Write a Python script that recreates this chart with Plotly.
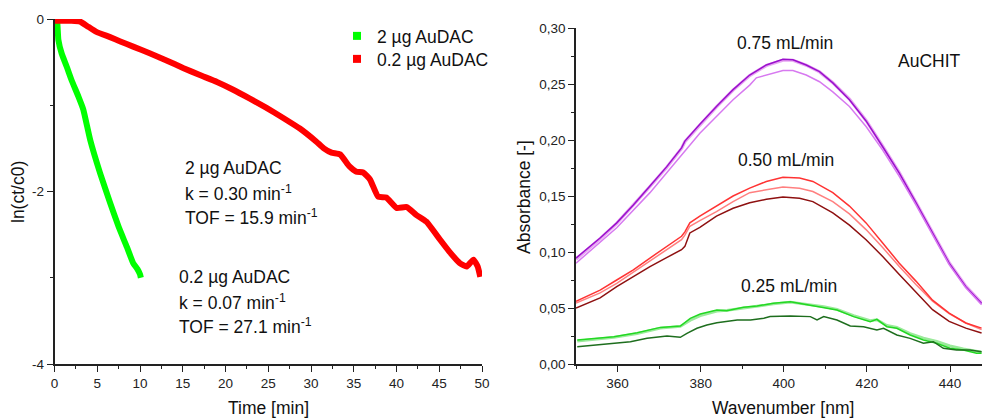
import plotly.graph_objects as go

W, H = 982, 418
FONT = "Liberation Sans, Arial, sans-serif"

# ---------------- Left panel data: ln(ct/c0) vs time ----------------
t_2ug = [0.2, 0.33, 0.45, 0.84, 1.42, 2.0, 2.8, 3.37, 4.17, 5.34, 6.5, 7.5, 8.45, 9.2, 9.7, 10.0, 10.1]
y_2ug = [0.0, -0.05, -0.24, -0.40, -0.55, -0.71, -0.90, -1.05, -1.40, -1.79, -2.13, -2.41, -2.64, -2.83, -2.90, -2.96, -3.0]

t_02ug = [0, 1, 2, 3.0, 3.8, 4.9, 6.5, 7.7, 9.2, 11.2, 13.1, 15.1, 17.0, 19.0, 20.9, 22.8, 24.8,
          26.8, 28.7, 30.6, 31.5, 32.4, 33.4, 34.5, 35.3, 36.1, 36.9, 37.85, 38.8, 40.0, 41.2,
          42.3, 43.5, 45.1, 46.2, 47.4, 48.2, 49.0, 49.5, 49.8]
y_02ug = [-0.02, -0.02, -0.02, -0.03, -0.08, -0.15, -0.21, -0.26, -0.32, -0.40, -0.48, -0.57, -0.65,
          -0.73, -0.82, -0.92, -1.03, -1.15, -1.27, -1.42, -1.50, -1.55, -1.57, -1.71, -1.77, -1.78,
          -1.86, -2.06, -2.07, -2.19, -2.18, -2.27, -2.35, -2.56, -2.70, -2.83, -2.87, -2.79, -2.87, -2.99]

legend_names = ["2 µg AuDAC", "0.2 µg AuDAC"]

# ---------------- Right panel data: absorbance spectra ----------------
wl_a = [350.0, 355.8, 359.8, 363.8, 367.8, 371.8, 375.4, 376.2, 379.8, 383.8, 387.8, 391.8,
        395.8, 399.8, 402.2, 405.4, 408.6, 411.8, 415.8, 419.8, 423.8, 427.8, 431.8, 435.8,
        439.8, 443.8, 447.6]
abs_075_dark = [0.0946, 0.1125, 0.126, 0.142, 0.159, 0.176, 0.193, 0.199, 0.214, 0.230, 0.245, 0.258,
                0.267, 0.272, 0.2717, 0.267, 0.261, 0.251, 0.236, 0.217, 0.194, 0.1705, 0.144, 0.117,
                0.090, 0.069, 0.054]
abs_075_pale = [0.0935, 0.1118, 0.1255, 0.1415, 0.1585, 0.1755, 0.1925, 0.1985, 0.2135, 0.2295, 0.2445, 0.2575,
                0.2665, 0.2712, 0.2712, 0.2668, 0.2608, 0.2512, 0.2365, 0.2175, 0.1945, 0.171, 0.1445, 0.1175,
                0.0905, 0.0695, 0.0545]
wl_b = [350.0, 359.8, 367.8, 375.4, 379.8, 387.8, 391.8, 393.4, 395.8, 399.8, 402.2, 405.4, 408.6,
        411.8, 415.8, 419.8, 423.8, 427.8, 431.8, 435.8, 439.8, 443.8, 447.6]
abs_075_mid = [0.090, 0.1217, 0.153, 0.187, 0.206, 0.236, 0.249, 0.2555, 0.258, 0.262, 0.262, 0.258, 0.252,
               0.243, 0.230, 0.212, 0.191, 0.1675, 0.142, 0.1155, 0.0887, 0.068, 0.053]

wl_c = [350.0, 355.8, 359.8, 363.8, 367.8, 371.8, 375.4, 376.2, 377.4, 379.8, 383.8, 387.8, 391.8,
        395.8, 399.8, 403.8, 407.0, 411.8, 415.8, 419.8, 423.8, 427.8, 431.8, 435.8, 439.8, 443.8, 447.6]
abs_050_red = [0.056, 0.066, 0.075, 0.084, 0.0946, 0.105, 0.114, 0.118, 0.126, 0.132, 0.141, 0.150, 0.157,
               0.163, 0.1667, 0.166, 0.163, 0.153, 0.141, 0.126, 0.108, 0.090, 0.074, 0.057, 0.0455, 0.0366, 0.032]
abs_050_salmon = [0.0545, 0.0635, 0.072, 0.082, 0.0917, 0.102, 0.111, 0.115, 0.123, 0.128, 0.136, 0.145, 0.153,
                  0.1555, 0.158, 0.157, 0.154, 0.145, 0.134, 0.120, 0.104, 0.087, 0.071, 0.056, 0.045, 0.0366, 0.0307]
abs_050_dark = [0.050, 0.059, 0.069, 0.078, 0.087, 0.095, 0.102, 0.105, 0.117, 0.122, 0.132, 0.139, 0.144,
                0.147, 0.149, 0.148, 0.145, 0.135, 0.124, 0.111, 0.096, 0.080, 0.064, 0.0485, 0.038, 0.032, 0.0277]

wl_d = [350.3, 355.0, 359.1, 364.7, 370.3, 375.1, 377.5, 379.9, 383.9, 386.3, 390.3, 393.6, 397.5,
        401.6, 406.4, 409.6, 412.8, 416.8, 420.8, 422.4, 424.8, 427.2, 430.4, 433.6, 436.8, 440.0,
        443.2, 446.4, 447.6]
abs_025_green = [0.0214, 0.023, 0.0244, 0.028, 0.0327, 0.0339, 0.0408, 0.0446, 0.0482, 0.0476, 0.0506, 0.0518,
                 0.0542, 0.0556, 0.0527, 0.0506, 0.0482, 0.0423, 0.0378, 0.0399, 0.0333, 0.0319, 0.0259,
                 0.0214, 0.0185, 0.014, 0.0125, 0.0096, 0.0096]
abs_025_light = [0.0205, 0.0222, 0.0238, 0.0272, 0.032, 0.0335, 0.039, 0.0432, 0.0472, 0.0478, 0.0498, 0.052,
                 0.0536, 0.0552, 0.0532, 0.0512, 0.0488, 0.0432, 0.0388, 0.0395, 0.0345, 0.0328, 0.0272,
                 0.0232, 0.0202, 0.0162, 0.0135, 0.0112, 0.0105]
wl_e = [350.3, 356.7, 363.1, 367.1, 371.9, 375.1, 376.7, 379.1, 381.5, 383.9, 386.3, 388.8, 392.0,
        395.2, 396.7, 401.6, 406.4, 408.0, 409.6, 412.8, 416.0, 419.2, 422.4, 424.0, 427.2, 430.4,
        433.6, 436.0, 438.4, 441.6, 444.8, 447.6]
abs_025_dark = [0.0155, 0.0179, 0.0199, 0.0229, 0.025, 0.0238, 0.0274, 0.0319, 0.0348, 0.0369, 0.0378, 0.0393,
                0.0393, 0.0408, 0.0423, 0.0429, 0.0423, 0.0393, 0.0423, 0.0393, 0.0339, 0.0333, 0.0304,
                0.0319, 0.0259, 0.0229, 0.0185, 0.0199, 0.014, 0.0125, 0.0125, 0.011]


def px(x, y):
    return x / W, 1 - y / H


fig = go.Figure()

# Left panel traces
fig.add_trace(go.Scatter(x=t_2ug, y=y_2ug, mode="lines",
                         line=dict(color="#00FF00", width=6, shape="spline", smoothing=0.4),
                         showlegend=False, xaxis="x", yaxis="y"))
fig.add_trace(go.Scatter(x=t_02ug, y=y_02ug, mode="lines",
                         line=dict(color="#FF0000", width=6, shape="spline", smoothing=0.4),
                         showlegend=False, xaxis="x", yaxis="y"))
# legend entries (squares), each in its own legend box
fig.add_trace(go.Scatter(x=[None], y=[None], mode="markers", name=legend_names[0], legend="legend",
                         marker=dict(symbol="square", size=8, color="#00FF00"), xaxis="x", yaxis="y"))
fig.add_trace(go.Scatter(x=[None], y=[None], mode="markers", name=legend_names[1], legend="legend2",
                         marker=dict(symbol="square", size=8, color="#FF0000"), xaxis="x", yaxis="y"))

# Right panel traces
def spec(x, y, color, width=1.5):
    fig.add_trace(go.Scatter(x=x, y=y, mode="lines", line=dict(color=color, width=width),
                             showlegend=False, xaxis="x2", yaxis="y2"))

spec(wl_a, abs_075_pale, "#E7A6F2", 3.2)
spec(wl_a, abs_075_dark, "#9A10CC", 1.5)
spec(wl_b, abs_075_mid, "#D77AF0", 1.5)
spec(wl_c, abs_050_salmon, "#FF7F7F", 1.5)
spec(wl_c, abs_050_red, "#FF3333", 1.5)
spec(wl_c, abs_050_dark, "#8E1010", 1.5)
spec(wl_d, abs_025_light, "#9BEA9B", 2.8)
spec(wl_d, abs_025_green, "#22D822", 1.5)
spec(wl_e, abs_025_dark, "#1E6E1E", 1.5)

axis_common = dict(showline=True, linecolor="#222", linewidth=1.5, ticks="outside", ticklen=6,
                   tickwidth=1.3, tickcolor="#222", showgrid=False, zeroline=False, mirror=False,
                   automargin=False,
                   tickfont=dict(family=FONT, size=13.5, color="#222"))

lx0, lx1 = px(54.5, 0)[0], px(482, 0)[0]
ly0, ly1 = px(0, 364)[1], px(0, 19)[1]
rx0, rx1 = px(576, 0)[0], 1.0
ry0, ry1 = px(0, 364)[1], px(0, 28)[1]

legend_common = dict(xanchor="left", yanchor="top", bgcolor="rgba(0,0,0,0)",
                     font=dict(family=FONT, size=17.5, color="#111"), itemwidth=30)

fig.update_layout(
    width=W, height=H, margin=dict(l=0, r=0, t=0, b=0, autoexpand=False),
    plot_bgcolor="white", paper_bgcolor="white",
    separators=",.",
    font=dict(family=FONT, size=17.5, color="#111"),
    xaxis=dict(domain=[lx0, lx1], range=[0, 50], tickvals=[0, 5, 10, 15, 20, 25, 30, 35, 40, 45, 50],
               minor=dict(dtick=2.5, tick0=0, ticks="outside", ticklen=3, tickcolor="#222"),
               anchor="y", **axis_common),
    yaxis=dict(domain=[ly0, ly1], range=[-4, 0], tickvals=[0, -2, -4], ticktext=["0", "-2", "-4"],
               minor=dict(dtick=1, tick0=0, ticks="outside", ticklen=3, tickcolor="#222"),
               anchor="x", **axis_common),
    xaxis2=dict(domain=[rx0, rx1], range=[350, 447.7], tick0=360, dtick=20,
                minor=dict(dtick=10, tick0=350, ticks="outside", ticklen=3, tickcolor="#222"),
                anchor="y2", **axis_common),
    yaxis2=dict(domain=[ry0, ry1], range=[0, 0.30], tick0=0, dtick=0.05, tickformat=".2f",
                minor=dict(dtick=0.025, tick0=0, ticks="outside", ticklen=3, tickcolor="#222"),
                anchor="x2", **axis_common),
    legend=dict(x=px(337, 0)[0], y=px(0, 18)[1], **legend_common),
    legend2=dict(x=px(337, 0)[0], y=px(0, 41)[1], **legend_common),
)

annots = [
    # axis titles
    dict(text="Time [min]", x=268, y=408, anchor="center"),
    dict(text="ln(ct/c0)", x=18, y=192, anchor="center", angle=-90),
    dict(text="Wavenumber [nm]", x=783, y=408, anchor="center"),
    dict(text="Absorbance [-]", x=524, y=197, anchor="center", angle=-90),
    # left panel notes
    dict(text="2 µg AuDAC", x=182.5, y=168, anchor="left"),
    dict(text="k = 0.30 min<sup>-1</sup>", x=182.5, y=193, anchor="left"),
    dict(text="TOF = 15.9 min<sup>-1</sup>", x=182.5, y=217, anchor="left"),
    dict(text="0.2 µg AuDAC", x=176.5, y=277, anchor="left"),
    dict(text="k = 0.07 min<sup>-1</sup>", x=176.5, y=302, anchor="left"),
    dict(text="TOF = 27.1 min<sup>-1</sup>", x=176.5, y=326, anchor="left"),
    # right panel notes
    dict(text="0.75 mL/min", x=784.5, y=43, anchor="center"),
    dict(text="AuCHIT", x=929, y=61, anchor="center"),
    dict(text="0.50 mL/min", x=786, y=160, anchor="center"),
    dict(text="0.25 mL/min", x=789, y=286, anchor="center"),
]
for a in annots:
    ax, ay = px(a["x"], a["y"])
    fig.add_annotation(text=a["text"], x=ax, y=ay, xref="paper", yref="paper",
                       xanchor=a["anchor"], yanchor="middle", showarrow=False,
                       textangle=a.get("angle", 0),
                       font=dict(family=FONT, size=17.5, color="#111"))

fig.write_html("out.html", config={"displayModeBar": False},
               post_script="document.body.style.margin='0';document.body.style.overflow='hidden';")
